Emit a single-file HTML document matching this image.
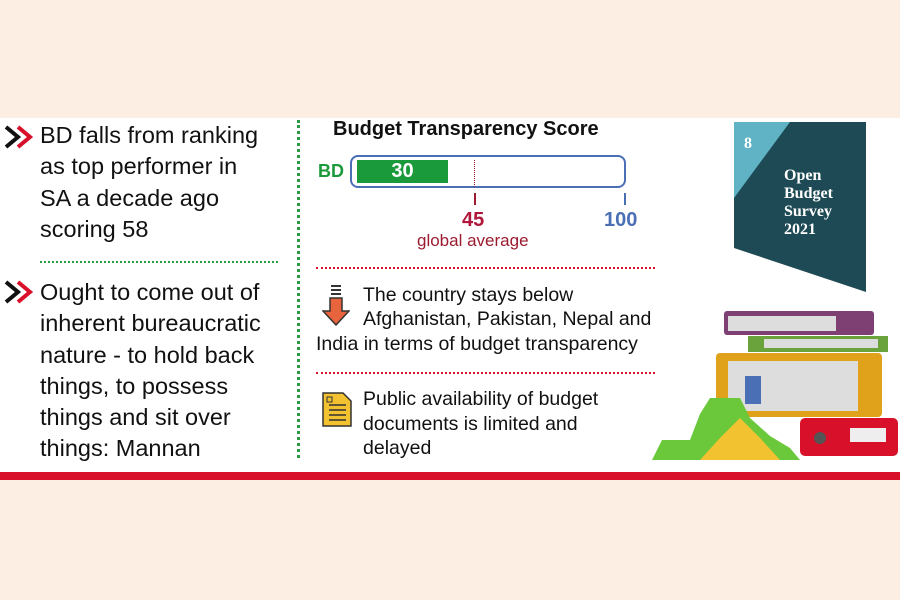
<!DOCTYPE html>
<html><head><style>
body{margin:0;width:900px;height:600px;background:#fdeee4;position:relative;overflow:hidden;font-family:"Liberation Sans",sans-serif}
.a{position:absolute;white-space:nowrap}
.l{font-size:23.5px;color:#111;line-height:31.3px;left:40px}
.r{font-family:"Liberation Sans",sans-serif;font-size:19.5px;color:#111;line-height:24.5px}
</style></head><body>
<div class="a" style="left:0;top:118px;width:900px;height:354px;background:#fff"></div>
<div class="a" style="left:0;top:472px;width:900px;height:8px;background:#d8102a"></div>
<div class="a" style="left:297px;top:120px;height:338px;border-left:3px dotted #2a9a45"></div>
<div class="a" style="left:40px;top:261px;width:238px;border-top:2px dotted #2a9a45"></div>
<svg class="a" style="left:4px;top:123px" width="30" height="30"><path d="M2 4l12 10-12 10" stroke="#111" stroke-width="4" fill="none"/><path d="M14 4l12 10-12 10" stroke="#d8102a" stroke-width="4" fill="none"/></svg>
<svg class="a" style="left:4px;top:278px" width="30" height="30"><path d="M2 4l12 10-12 10" stroke="#111" stroke-width="4" fill="none"/><path d="M14 4l12 10-12 10" stroke="#d8102a" stroke-width="4" fill="none"/></svg>
<div class="a l" style="top:120px">BD falls from ranking<br>as top performer in<br>SA a decade ago<br>scoring 58</div>
<div class="a l" style="top:277px">Ought to come out of<br>inherent bureaucratic<br>nature - to hold back<br>things, to possess<br>things and sit over<br>things: Mannan</div>
<div class="a" style="left:333px;top:118px;font:bold 20px 'Liberation Sans',sans-serif;color:#111">Budget Transparency Score</div>
<div class="a" style="left:318px;top:161px;font:bold 18px 'Liberation Sans',sans-serif;color:#1a9a3a">BD</div>
<div class="a" style="left:350px;top:155px;width:272px;height:29px;border:2px solid #4a6fb5;border-radius:8px"></div>
<div class="a" style="left:357px;top:160px;width:91px;height:23px;background:#1a9a3a;color:#fff;font:bold 20px 'Liberation Sans',sans-serif;text-align:center;line-height:23px">30</div>
<div class="a" style="left:474px;top:160px;height:27px;border-left:1px dotted #9b1b30"></div>
<div class="a" style="left:474px;top:193px;height:12px;border-left:2px solid #9b1b30"></div>
<div class="a" style="left:624px;top:193px;height:12px;border-left:2px solid #4a6fb5"></div>
<div class="a" style="left:462px;top:209px;font:bold 20px 'Liberation Sans',sans-serif;color:#b0173a">45</div>
<div class="a" style="left:604px;top:209px;font:bold 20px 'Liberation Sans',sans-serif;color:#4a6fb5">100</div>
<div class="a" style="left:417px;top:231px;font:17px 'Liberation Sans',sans-serif;color:#9b1b30">global average</div>
<div class="a" style="left:316px;top:267px;width:339px;border-top:2px dotted #d8102a"></div>
<div class="a" style="left:316px;top:372px;width:339px;border-top:2px dotted #d8102a"></div>
<svg class="a" style="left:322px;top:285px" width="28" height="42"><rect x="9" y="0" width="10" height="2" fill="#333"/><rect x="9" y="4" width="10" height="2" fill="#333"/><rect x="9" y="8" width="10" height="2" fill="#333"/><path d="M8 13h12v13h7l-13 14-13-14h7z" fill="#e8643c" stroke="#333" stroke-width="1.5"/></svg>
<div class="a r" style="left:363px;top:283px">The country stays below</div>
<div class="a r" style="left:363px;top:307px">Afghanistan, Pakistan, Nepal and</div>
<div class="a r" style="left:316px;top:332px">India in terms of budget transparency</div>
<svg class="a" style="left:321px;top:391px" width="32" height="37"><path d="M2 2h20l8 8v25H2z" fill="#f2c230" stroke="#333" stroke-width="1.5"/><g stroke="#333" stroke-width="1.5"><line x1="8" y1="14" x2="25" y2="14"/><line x1="8" y1="19" x2="25" y2="19"/><line x1="8" y1="24" x2="25" y2="24"/><line x1="8" y1="29" x2="25" y2="29"/></g><rect x="6" y="6" width="5" height="5" fill="none" stroke="#333"/></svg>
<div class="a r" style="left:363px;top:387px">Public availability of budget<br>documents is limited and<br>delayed</div>
<svg class="a" style="left:640px;top:118px" width="260" height="354">
<polygon points="94,4 226,4 226,174 94,130" fill="#1e4a55"/>
<polygon points="94,4 150,4 94,80" fill="#5fb3c4"/>
<text x="104" y="30" fill="#fff" font-family="Liberation Serif" font-size="16" font-weight="bold">8</text>
<text x="144" y="62" fill="#fff" font-family="Liberation Serif" font-size="16" font-weight="bold">Open</text>
<text x="144" y="80" fill="#fff" font-family="Liberation Serif" font-size="16" font-weight="bold">Budget</text>
<text x="144" y="98" fill="#fff" font-family="Liberation Serif" font-size="16" font-weight="bold">Survey</text>
<text x="144" y="116" fill="#fff" font-family="Liberation Serif" font-size="16" font-weight="bold">2021</text>
<rect x="84" y="193" width="150" height="24" rx="3" fill="#7e3f73"/><rect x="88" y="198" width="108" height="15" fill="#ddd"/>
<rect x="108" y="218" width="140" height="16" fill="#6aa33c"/><rect x="124" y="221" width="114" height="9" fill="#ddd"/>
<rect x="76" y="235" width="166" height="64" rx="4" fill="#e0a21a"/><rect x="88" y="243" width="130" height="50" fill="#ddd"/><rect x="105" y="258" width="16" height="28" fill="#4a6fb5"/>
<rect x="160" y="300" width="98" height="38" rx="5" fill="#d8102a"/><rect x="210" y="310" width="36" height="14" fill="#eee"/><circle cx="180" cy="320" r="6" fill="#555"/>
<polygon points="12,342 22,322 50,322 60,296 70,280 100,280 110,300 130,318 150,330 160,342" fill="#6ac83a"/>
<polygon points="60,342 80,320 100,300 120,320 140,342" fill="#f2c230"/>
</svg>
</body></html>
